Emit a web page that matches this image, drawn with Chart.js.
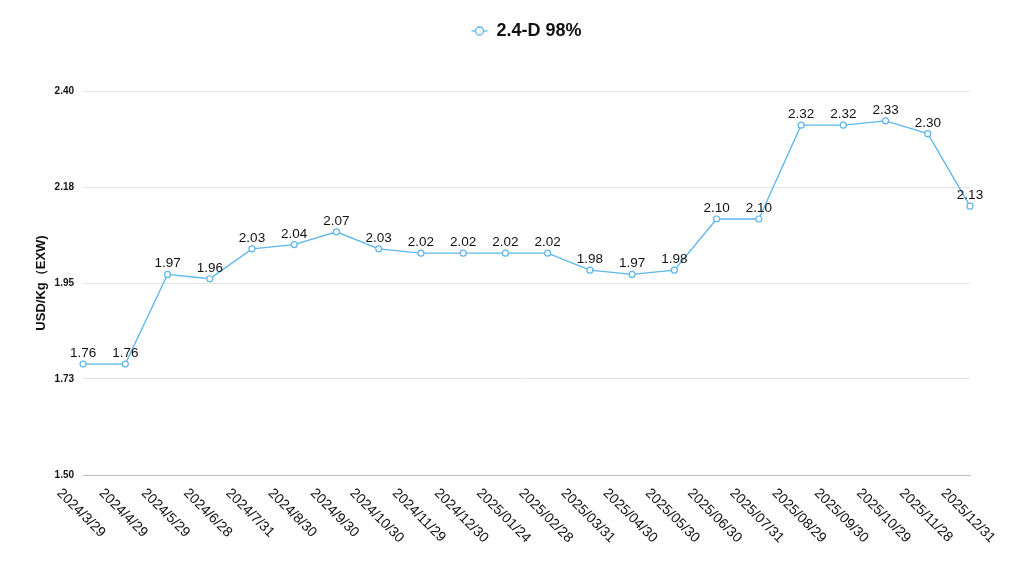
<!DOCTYPE html>
<html>
<head>
<meta charset="utf-8">
<script src="https://cdn.jsdelivr.net/npm/chart.js@4/dist/chart.umd.min.js"></script>
<style>
  body { margin: 0; background: #fff; }
  #wrap { width: 1018px; height: 573px; position: relative; }
</style>
</head>
<body>
<div id="wrap"><canvas id="priceChart"></canvas></div>
<script>
// dates on the x axis
const dates = [
  '2024/3/29', '2024/4/29', '2024/5/29', '2024/6/28', '2024/7/31', '2024/8/30',
  '2024/9/30', '2024/10/30', '2024/11/29', '2024/12/30', '2025/01/24', '2025/02/28',
  '2025/03/31', '2025/04/30', '2025/05/30', '2025/06/30', '2025/07/31', '2025/08/29',
  '2025/09/30', '2025/10/29', '2025/11/28', '2025/12/31'
];
// price of 2.4-D 98%, USD/Kg EXW
const prices = [
  1.76, 1.76, 1.97, 1.96, 2.03, 2.04, 2.07, 2.03, 2.02, 2.02, 2.02,
  2.02, 1.98, 1.97, 1.98, 2.10, 2.10, 2.32, 2.32, 2.33, 2.30, 2.13
];
const yTicks = [1.5, 1.725, 1.95, 2.175, 2.4];
const yTickLabels = ['1.50', '1.73', '1.95', '2.18', '2.40'];

const lineColor = 'rgb(92, 182, 236)';
const fontFamily = '"Liberation Sans", Arial, Helvetica, sans-serif';

// extra room under the legend
const legendGap = {
  id: 'legendGap',
  beforeInit(chart) {
    const fit = chart.legend.fit;
    chart.legend.fit = function () {
      fit.bind(chart.legend)();
      this.height += 41;
    };
  }
};

// line-and-circle marker in the legend
const legendLine = {
  id: 'legendLine',
  afterDraw(chart) {
    const box = chart.legend.legendHitBoxes[0];
    if (!box) return;
    const ctx = chart.ctx;
    const cx = box.left + 8;
    const cy = box.top + box.height / 2;
    ctx.save();
    ctx.strokeStyle = lineColor;
    ctx.fillStyle = '#fff';
    ctx.lineWidth = 1.3;
    ctx.beginPath();
    ctx.moveTo(cx - 8, cy);
    ctx.lineTo(cx + 8, cy);
    ctx.stroke();
    ctx.beginPath();
    ctx.arc(cx, cy, 4, 0, Math.PI * 2);
    ctx.fill();
    ctx.stroke();
    ctx.restore();
  }
};

// value labels above each point
const pointLabels = {
  id: 'pointLabels',
  afterDatasetsDraw(chart) {
    const ctx = chart.ctx;
    const meta = chart.getDatasetMeta(0);
    ctx.save();
    ctx.font = '13.5px ' + fontFamily;
    ctx.fillStyle = '#111';
    ctx.textAlign = 'center';
    ctx.textBaseline = 'bottom';
    meta.data.forEach((pt, i) => {
      ctx.fillText(prices[i].toFixed(2), pt.x, pt.y - 4);
    });
    ctx.restore();
  }
};

// slanted date labels going down to the right
const slantLabels = {
  id: 'slantLabels',
  afterDraw(chart) {
    const ctx = chart.ctx;
    const xs = chart.scales.x;
    const top = chart.chartArea.bottom + 16;
    ctx.save();
    ctx.font = '14px ' + fontFamily;
    ctx.fillStyle = '#111';
    ctx.textAlign = 'center';
    ctx.textBaseline = 'middle';
    dates.forEach((d, i) => {
      const w = ctx.measureText(d).width;
      const x = xs.getPixelForValue(i) - 2;
      ctx.save();
      ctx.translate(x, top + w * 0.3536);
      ctx.rotate(Math.PI / 4);
      ctx.fillText(d, 0, 0);
      ctx.restore();
    });
    ctx.restore();
  }
};

new Chart(document.getElementById('priceChart').getContext('2d'), {
  type: 'line',
  data: {
    labels: dates,
    datasets: [{
      label: '2.4-D 98%',
      data: prices,
      borderColor: lineColor,
      backgroundColor: '#fff',
      borderWidth: 1.3,
      pointRadius: 3,
      pointBorderWidth: 1.2,
      pointBackgroundColor: '#fff',
      pointBorderColor: lineColor,
      tension: 0
    }]
  },
  options: {
    responsive: true,
    maintainAspectRatio: false,
    animation: false,
    layout: { padding: { top: 10, right: 48, bottom: 90, left: 34 } },
    plugins: {
      legend: {
        position: 'top',
        fullSize: false,
        labels: {
          boxWidth: 16,
          boxHeight: 8,
          color: '#111',
          font: { family: fontFamily, size: 18, weight: 'bold' },
          padding: 12,
          generateLabels: (chart) =>
            Chart.defaults.plugins.legend.labels.generateLabels(chart).map(l => ({
              ...l, fillStyle: 'rgba(0,0,0,0)', strokeStyle: 'rgba(0,0,0,0)'
            }))
        }
      },
      tooltip: { enabled: false }
    },
    scales: {
      x: {
        offset: false,
        grid: { display: false },
        border: { color: '#bbb' },
        ticks: { display: false }
      },
      y: {
        min: 1.5,
        max: 2.4,
        afterBuildTicks(axis) {
          axis.ticks = yTicks.map(v => ({ value: v }));
        },
        grid: { color: '#e2e2e2', drawTicks: false },
        border: { display: false },
        ticks: {
          padding: 9,
          color: '#111',
          font: { family: fontFamily, size: 10, weight: 'bold' },
          callback: (v, i) => yTickLabels[i]
        },
        title: {
          display: true,
          text: 'USD/Kg（EXW)',
          color: '#111',
          font: { family: fontFamily, size: 13, weight: 'bold' },
          padding: { top: 0, bottom: -4 }
        }
      }
    }
  },
  plugins: [legendGap, pointLabels, slantLabels, legendLine]
});
</script>
</body>
</html>
